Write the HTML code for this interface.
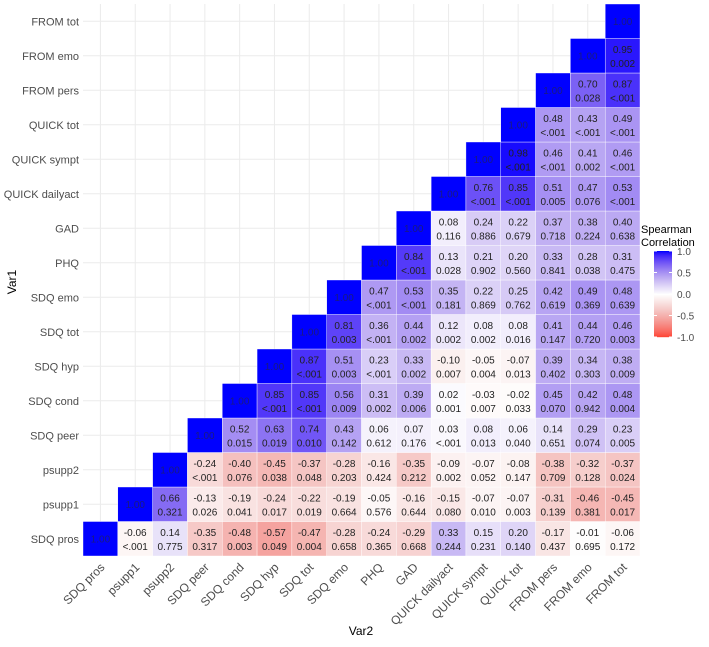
<!DOCTYPE html>
<html><head><meta charset="utf-8"><style>
body{margin:0;background:#fff;font-family:"Liberation Sans",sans-serif}
</style></head><body>
<svg id="chart" width="709" height="642" xmlns="http://www.w3.org/2000/svg" style="font-family:'Liberation Sans',sans-serif"></svg>
<script>
const vars=["SDQ pros","psupp1","psupp2","SDQ peer","SDQ cond","SDQ hyp","SDQ tot","SDQ emo","PHQ","GAD","QUICK dailyact","QUICK sympt","QUICK tot","FROM pers","FROM emo","FROM tot"];
const rho=[
[1.00,-0.06,0.14,-0.35,-0.48,-0.57,-0.47,-0.28,-0.24,-0.29,0.33,0.15,0.20,-0.17,-0.01,-0.06],
[1.00,0.66,-0.13,-0.19,-0.24,-0.22,-0.19,-0.05,-0.16,-0.15,-0.07,-0.07,-0.31,-0.46,-0.45],
[1.00,-0.24,-0.40,-0.45,-0.37,-0.28,-0.16,-0.35,-0.09,-0.07,-0.08,-0.38,-0.32,-0.37],
[1.00,0.52,0.63,0.74,0.43,0.06,0.07,0.03,0.08,0.06,0.14,0.29,0.23],
[1.00,0.85,0.85,0.56,0.31,0.39,0.02,-0.03,-0.02,0.45,0.42,0.48],
[1.00,0.87,0.51,0.23,0.33,-0.10,-0.05,-0.07,0.39,0.34,0.38],
[1.00,0.81,0.36,0.44,0.12,0.08,0.08,0.41,0.44,0.46],
[1.00,0.47,0.53,0.35,0.22,0.25,0.42,0.49,0.48],
[1.00,0.84,0.13,0.21,0.20,0.33,0.28,0.31],
[1.00,0.08,0.24,0.22,0.37,0.38,0.40],
[1.00,0.76,0.85,0.51,0.47,0.53],
[1.00,0.98,0.46,0.41,0.46],
[1.00,0.48,0.43,0.49],
[1.00,0.70,0.87],
[1.00,0.95],
[1.00]];
const pvals=[
["",  "<.001","0.775","0.317","0.003","0.049","0.004","0.658","0.365","0.668","0.244","0.231","0.140","0.437","0.695","0.172"],
["","0.321","0.026","0.041","0.017","0.019","0.664","0.576","0.644","0.080","0.010","0.003","0.139","0.381","0.017"],
["","<.001","0.076","0.038","0.048","0.203","0.424","0.212","0.002","0.052","0.147","0.709","0.128","0.024"],
["","0.015","0.019","0.010","0.142","0.612","0.176","<.001","0.013","0.040","0.651","0.074","0.005"],
["","<.001","<.001","0.009","0.002","0.006","0.001","0.007","0.033","0.070","0.942","0.004"],
["","<.001","0.003","<.001","0.002","0.007","0.004","0.013","0.402","0.303","0.009"],
["","0.003","<.001","0.002","0.002","0.002","0.016","0.147","0.720","0.003"],
["","<.001","<.001","0.181","0.869","0.762","0.619","0.369","0.639"],
["","<.001","0.028","0.902","0.560","0.841","0.038","0.475"],
["","0.116","0.886","0.679","0.718","0.224","0.638"],
["","<.001","<.001","0.005","0.076","<.001"],
["","<.001","<.001","0.002","<.001"],
["","<.001","<.001","<.001"],
["","0.028","<.001"],
["","0.002"],
[""]];
const legendTicks=[1.0,0.5,0.0,-0.5,-1.0];

const svg=document.getElementById('chart');
const NS="http://www.w3.org/2000/svg";
const X0=83,X1=640,Y0=4,Y1=556,n=vars.length;
const cw=(X1-X0)/n,ch=(Y1-Y0)/n;
const xc=i=>X0+cw*(i+0.5);
const yc=j=>Y1-ch*(j+0.5);
function mk(tag,attrs,parent){const e=document.createElementNS(NS,tag);for(const k in attrs)e.setAttribute(k,attrs[k]);(parent||svg).appendChild(e);return e;}
function col(t){
  if(t>=0){const r=255*Math.pow(1-t,0.6),g=255*Math.pow(1-t,0.8),b=255-12*Math.sin(Math.PI*t);return `rgb(${r|0},${g|0},${b|0})`;}
  const a=-t;const r=255-10*Math.sin(Math.PI*a),g=60+195*Math.pow(1-a,0.75),b=40+215*Math.pow(1-a,0.7);return `rgb(${r|0},${g|0},${b|0})`;
}
for(let i=0;i<n;i++){
  const gl=mk('line',{x1:xc(i),x2:xc(i),y1:Y0,y2:Y1,stroke:'#ebebeb','stroke-width':1});
  
  
  const gh=mk('line',{x1:X0,x2:X1,y1:yc(i),y2:yc(i),stroke:'#ebebeb','stroke-width':1});
  
  
}
for(let j=0;j<n;j++){
  for(let k=0;k<rho[j].length;k++){
    const i=j+k,v=rho[j][k];
    const r=mk('rect',{x:X0+cw*i,y:Y1-ch*(j+1),width:cw,height:ch,fill:col(v),stroke:'#fff','stroke-width':0.4});
    
    
    const p=pvals[j][k];
    if(p===""){
      const t=mk('text',{x:xc(i),y:yc(j)+3.5,'text-anchor':'middle','font-size':10,fill:'#1a1a80'});
      t.textContent=v.toFixed(2);
      
      
    }else{
      const t=mk('text',{x:xc(i),y:yc(j)-3,'text-anchor':'middle','font-size':10,fill:'#222'});
      t.textContent=v.toFixed(2);
      
      
      const t2=mk('text',{x:xc(i),y:yc(j)+11,'text-anchor':'middle','font-size':10,fill:'#222'});
      t2.textContent=p;
      
      
    }
  }
}
for(let i=0;i<n;i++){
  const yl=mk('text',{x:79,y:yc(i)+4,'text-anchor':'end','font-size':11,fill:'#4d4d4d'});
  yl.textContent=vars[i];
  
  
  const tx=xc(i)+5,ty=568;
  const xl=mk('text',{x:tx,y:ty,'text-anchor':'end','font-size':12,fill:'#4d4d4d',transform:`rotate(-45 ${tx} ${ty})`});
  xl.textContent=vars[i];
  
  
}
const xt=mk('text',{x:361,y:635,'text-anchor':'middle','font-size':12,fill:'#000'});
xt.textContent='Var2';


const yt=mk('text',{x:16,y:282,'text-anchor':'middle','font-size':12,fill:'#000',transform:'rotate(-90 16 282)'});
yt.textContent='Var1';


const lt1=mk('text',{x:641,y:233,'font-size':11,fill:'#000'});lt1.textContent='Spearman';


const lt2=mk('text',{x:641,y:246,'font-size':11,fill:'#000'});lt2.textContent='Correlation';


const LY0=251,LY1=337,LX=654,LW=18;
const ly=v=>LY0+(1-v)/2*(LY1-LY0);
for(let s=0;s<86;s++){
  const v=1-2*s/86;
  const lr=mk('rect',{x:LX,y:LY0+s,width:LW,height:1.2,fill:col(v)});
  
  
}
legendTicks.forEach(v=>{
  const tl=mk('text',{x:677,y:ly(v)+4,'font-size':10,fill:'#4d4d4d'});
  tl.textContent=v.toFixed(1);
  
  
  mk('line',{x1:LX,x2:LX+3,y1:ly(v),y2:ly(v),stroke:'#fff'});
  mk('line',{x1:LX+LW-3,x2:LX+LW,y1:ly(v),y2:ly(v),stroke:'#fff'});
});
</script>
</body></html>
